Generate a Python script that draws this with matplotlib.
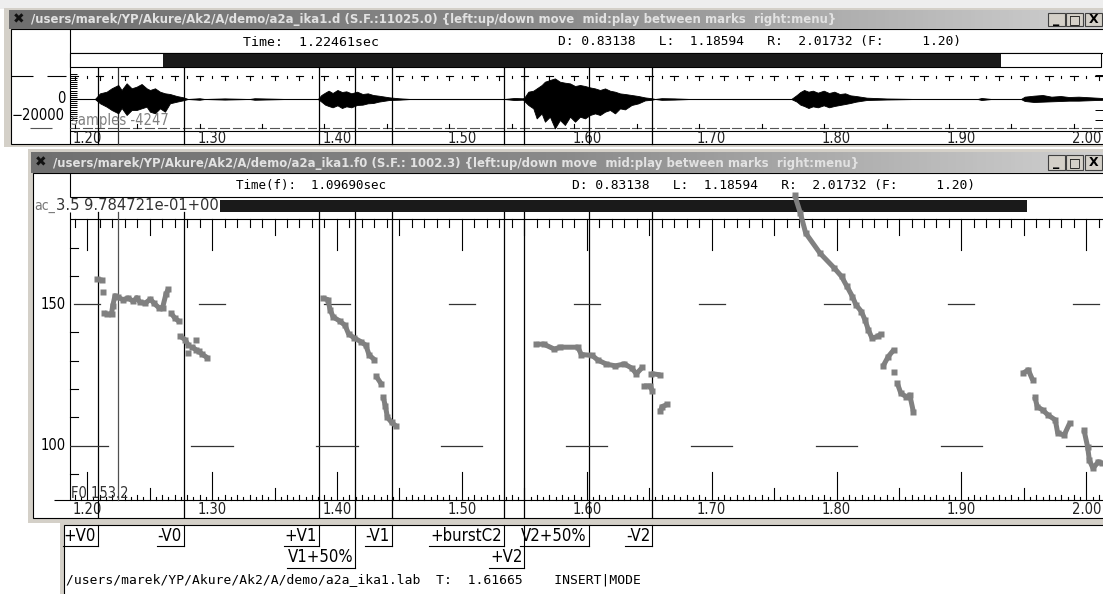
import matplotlib
matplotlib.use('Agg')
import matplotlib.pyplot as plt
import numpy as np
from matplotlib import transforms, font_manager
from matplotlib.patches import Rectangle
from matplotlib.colors import LinearSegmentedColormap

W, H = 1103, 594

# ---- values ----
t_left, t_right = 1.18594, 2.01732
cursor_time = 1.22461
time_ticks = [1.20, 1.30, 1.40, 1.50, 1.60, 1.70, 1.80, 1.90, 2.00]
time_tick_labels = ['1.20', '1.30', '1.40', '1.50', '1.60', '1.70', '1.80', '1.90', '2.00']

mark_times = [1.2088, 1.2774, 1.3856, 1.4147, 1.4439, 1.5334, 1.5500, 1.6014, 1.6525]
mark_labels = ['+V0', '-V0', '+V1', 'V1+50%', '-V1', '+burstC2', '+V2', 'V2+50%', '-V2']
mark_rows = [0, 0, 0, 1, 0, 0, 1, 0, 0]

f0_ticks = [100, 150]
f0_tick_labels = ['100', '150']

# F0 track (Hz), one list per run of points
f0_times = [
    [1.2080, 1.2121],
    [1.2129],
    [1.2135, 1.2160, 1.2195, 1.2205, 1.2223, 1.2245, 1.2286, 1.2328, 1.2369, 1.2397,
     1.2424, 1.2466, 1.2507, 1.2535, 1.2576, 1.2604, 1.2631, 1.2650],
    [1.2672, 1.2700, 1.2733],
    [1.2741, 1.2783, 1.2810],
    [1.2805],
    [1.2874],
    [1.2838, 1.2874, 1.2893, 1.2921, 1.2962],
    [1.3886, 1.3927, 1.3946, 1.3969, 1.4024, 1.4065, 1.4093, 1.4134, 1.4189, 1.4231, 1.4258, 1.4300],
    [1.4313, 1.4355],
    [1.4369, 1.4388, 1.4404, 1.4438, 1.4471],
    [1.5595, 1.5655, 1.5741, 1.5785, 1.5928, 1.5957, 1.6043, 1.6087, 1.6158, 1.6230,
     1.6302, 1.6360, 1.6397, 1.6446],
    [1.6516, 1.6589],
    [1.6459, 1.6510, 1.6524],
    [1.6589, 1.6603, 1.6646],
    [1.7665, 1.7710, 1.7753, 1.7868, 1.7983, 1.8040, 1.8083, 1.8127, 1.8155, 1.8199,
     1.8227, 1.8255, 1.8284, 1.8328, 1.8356],
    [1.8371, 1.8414, 1.8457],
    [1.8457],
    [1.8486, 1.8515, 1.8558, 1.8586, 1.8615],
    [1.9493, 1.9535, 1.9570],
    [1.9587, 1.9607, 1.9650, 1.9694, 1.9751, 1.9771, 1.9823, 1.9866],
    [1.9981, 2.0010, 2.0024, 2.0053, 2.0096, 2.0125],
]
f0_values = [
    [158.8, 158.5],
    [154.2],
    [147.0, 146.4, 146.6, 149.5, 153.0, 152.5, 151.6, 152.2, 151.0, 152.3,
     150.6, 150.4, 151.8, 150.3, 148.7, 148.8, 153.6, 155.4],
    [146.8, 145.2, 144.0],
    [138.8, 137.5, 135.5],
    [132.8],
    [137.3],
    [135.0, 133.8, 133.3, 132.3, 131.1],
    [152.2, 151.6, 148.0, 145.5, 144.0, 142.5, 139.5, 138.2, 136.8, 135.5, 132.0, 130.4],
    [124.6, 121.8],
    [117.3, 114.0, 110.0, 108.2, 107.0],
    [135.8, 135.9, 134.1, 134.8, 134.8, 132.2, 131.9, 130.3, 128.8, 128.2,
     128.9, 127.4, 125.4, 127.7],
    [125.5, 125.0],
    [121.1, 121.1, 119.4],
    [112.2, 113.8, 114.6],
    [188.5, 182.2, 175.1, 168.0, 162.7, 159.8, 156.3, 152.7, 149.8, 147.4,
     144.5, 140.9, 138.0, 138.6, 139.5],
    [128.0, 131.5, 133.8],
    [126.2],
    [122.1, 118.5, 117.3, 117.9, 112.0],
    [125.6, 126.8, 123.2],
    [117.3, 113.8, 112.6, 110.8, 109.1, 104.4, 103.8, 107.9],
    [105.5, 99.6, 94.9, 92.0, 94.3, 93.8],
]

# waveform envelope (sample units)
wave_t = [1.1860, 1.2062,
          1.2103, 1.2156, 1.2196, 1.2249, 1.2276, 1.2316, 1.2356, 1.2396, 1.2436, 1.2476,
          1.2503, 1.2543, 1.2583, 1.2623, 1.2663, 1.2717, 1.2769, 1.2807,
          1.2900, 1.2940, 1.3100, 1.3300, 1.3340, 1.3600,
          1.3847, 1.3875, 1.3905, 1.3933, 1.3965, 1.4004, 1.4040, 1.4075, 1.4115, 1.4161,
          1.4205, 1.4247, 1.4290, 1.4333, 1.4419, 1.4500, 1.4590,
          1.5340, 1.5420, 1.5490,
          1.5505, 1.5532, 1.5572, 1.5599, 1.5639, 1.5665, 1.5705, 1.5745, 1.5785, 1.5825,
          1.5866, 1.5906, 1.5946, 1.5986, 1.6026, 1.6066, 1.6106, 1.6146, 1.6186, 1.6226,
          1.6266, 1.6306, 1.6359, 1.6412, 1.6466, 1.6520, 1.6546,
          1.6600, 1.6700, 1.6833,
          1.7637, 1.7681, 1.7710, 1.7740, 1.7775, 1.7810, 1.7850, 1.7897, 1.7940, 1.7982,
          1.8025, 1.8069, 1.8110, 1.8155, 1.8242, 1.8400, 1.8644,
          1.9129, 1.9160, 1.9241,
          1.9476, 1.9506, 1.9580, 1.9650, 1.9720, 1.9793, 1.9860, 1.9938, 2.0081, 2.0173]
wave_upper = [0, 0,
              6700, 8590, 12590, 16470, 10590, 18470, 12590, 14470, 17650, 12590,
              10590, 12590, 8590, 6700, 5880, 3530, 2000, 0,
              900, 0, 700, 0, 900, 0,
              0, 4710, 7450, 9800, 7060, 10590, 8240, 9020, 6670, 8630,
              5880, 6670, 4710, 3920, 1960, 800, 0,
              0, 1200, 800,
              2700, 8590, 9770, 12470, 16470, 20350, 22350, 24240, 20350, 19180,
              18350, 15290, 16470, 15290, 13650, 12470, 10590, 12470, 9770, 8590,
              6590, 5880, 4710, 3530, 1880, 900, 0,
              1000, 700, 0,
              0, 4710, 8240, 10590, 8630, 9800, 7450, 9800, 7060, 8630,
              5880, 6670, 4310, 3530, 1570, 600, 0,
              0, 1200, 0,
              0, 2750, 3920, 4710, 2750, 3530, 2350, 2750, 1570, 780]
wave_lower = [0, 0,
              -5060, -9060, -12940, -16820, -10590, -18820, -12940, -12940, -10940, -9060,
              -14940, -16820, -10940, -14940, -5060, -3180, -1530, 0,
              -900, 0, -700, 0, -900, 0,
              0, -3140, -6670, -8240, -9800, -7450, -10590, -8630, -9800, -7060,
              -6670, -5100, -4710, -3140, -1180, -800, 0,
              0, -1200, -800,
              -3180, -7060, -11060, -22820, -16940, -26710, -20820, -34590, -24710, -30590,
              -20820, -26710, -20820, -22820, -18820, -16940, -18820, -14940, -12940, -16940,
              -11060, -12240, -7060, -5180, -1650, -900, 0,
              -1000, -700, 0,
              0, -3140, -6670, -8240, -10590, -8630, -9800, -7450, -9800, -8240,
              -7060, -5880, -4710, -3140, -1180, -600, 0,
              0, -1200, 0,
              0, -2350, -3530, -3140, -2750, -2350, -1960, -1960, -1180, -780]

# ---- fonts ----
fl = font_manager.fontManager.ttflist
if any(f.name == 'Liberation Sans Narrow' for f in fl):
    NARROW = dict(family='Liberation Sans Narrow')
elif any(f.name == 'DejaVu Sans' and 'Condensed' in f.fname for f in fl):
    NARROW = dict(family='DejaVu Sans', fontstretch='condensed')
else:
    NARROW = dict(family='DejaVu Sans')
MONO = dict(family='DejaVu Sans Mono')

fig = plt.figure(figsize=(W / 100, H / 100), dpi=100)
fig.patch.set_facecolor('white')
canvas = fig.add_axes([0, 0, 1, 1])
canvas.axis('off')
canvas.set_xlim(0, W)
canvas.set_ylim(H, 0)
renderer = fig.canvas.get_renderer()


def px_axes(x0, y0, x1, y1):
    a = fig.add_axes([x0 / W, 1 - y1 / H, (x1 - x0) / W, (y1 - y0) / H])
    a.axis('off')
    return a


def box(x0, y0, x1, y1, fc='none', ec='none', lw=0.8, z=1):
    canvas.add_patch(Rectangle((x0, y0), x1 - x0, y1 - y0, fc=fc, ec=ec, lw=lw, zorder=z))


def seg(x, y, **kw):
    kw.setdefault('color', 'black')
    kw.setdefault('lw', 0.8)
    canvas.plot(x, y, solid_capstyle='butt', **kw)


def fit(t, width):
    bb = t.get_window_extent(renderer)
    t.set_fontsize(t.get_fontsize() * width / bb.width)


grad = LinearSegmentedColormap.from_list('title', ['#6f6f6f', '#8a8a8a', '#d0d0d0'])


def title_bar(x0, y0, x1, y1, text, tx1):
    canvas.imshow(np.linspace(0, 1, 256)[None, :], extent=(x0, x1, y1, y0),
                  cmap=grad, aspect='auto', zorder=2)
    canvas.text(x0 + 4, (y0 + y1) / 2, '\u2716', fontsize=10, color='#111111',
                ha='left', va='center', zorder=3)
    t = canvas.text(x0 + 22, (y0 + y1) / 2 + 0.5, text, fontsize=9, fontweight='bold',
                    color='#e2e2e2', ha='left', va='center', zorder=3)
    fit(t, tx1 - (x0 + 22))
    for bx, glyph in zip([1048, 1066, 1085], ['_', '\u25a1', 'X']):
        box(bx, y0 + 3, bx + 17, y1 - 3, fc='#d4d0c8', ec='#404040', lw=0.8, z=3)
        canvas.text(bx + 8.5, (y0 + y1) / 2, glyph, fontsize=9, fontweight='bold',
                    ha='center', va='center', color='black', zorder=4)


# window frames
box(0, 0, W, 9, fc='#eeeeee', z=0)
box(4, 8, W, 147, fc='#d4d0c8', z=0)
box(28, 149, W, 523, fc='#d4d0c8', z=0)
box(60, 521, W, H, fc='#d4d0c8', z=0)
box(11, 29, W + 2, 144, fc='white', ec='black', z=1)
box(33, 173, W + 2, 518, fc='white', ec='black', z=1)
box(64, 525, W + 2, H + 2, fc='white', ec='black', z=1)

title_bar(9, 10, W, 29,
          '/users/marek/YP/Akure/Ak2/A/demo/a2a_ika1.d (S.F.:11025.0) '
          '{left:up/down move  mid:play between marks  right:menu}', 832)
title_bar(31, 152, W, 173,
          '/users/marek/YP/Akure/Ak2/A/demo/a2a_ika1.f0 (S.F.: 1002.3) '
          '{left:up/down move  mid:play between marks  right:menu}', 856)
canvas.set_xlim(0, W)
canvas.set_ylim(H, 0)

# data axes placed in pixels
X0, X1 = 69.6, 69.6 + (t_right - t_left) * 1249
ax_wave = px_axes(X0, 68, X1, 131)
ax_wave.set_xlim(t_left, t_right)
ax_wave.set_ylim(-37650, 36470)
ax_f0 = px_axes(X0, 219.3, X1, 500)
ax_f0.set_xlim(t_left, t_right)
ax_f0.set_ylim(80.8, 180.0)

tr_t = transforms.blended_transform_factory(ax_f0.transData, canvas.transData)

# ---------- top window (waveform) ----------
seg([70, 70], [29, 144])
seg([70, W], [53, 53])
box(70, 53, W - 2, 67, fc='white', ec='black', z=2)
box(162.5, 53.5, 1001, 66.5, fc='#1a1a1a', z=3)
t = canvas.text(243, 42, 'Time:  1.22461sec', **MONO, fontsize=9, va='center', zorder=3)
fit(t, 135)
t = canvas.text(558, 42, 'D: 0.83138   L:  1.18594   R:  2.01732 (F:     1.20)',
                **MONO, fontsize=9, va='center', zorder=3)
fit(t, 404)

ticks01 = np.round(np.arange(1.19, 2.02, 0.01), 2)
seg([11, 33], [75.5, 75.5])
seg([47, 66], [75.5, 75.5])
for i, tt in enumerate(ticks01):
    if i % 2 == 0:
        canvas.plot([tt - 0.003, tt + 0.003], [76, 76], transform=tr_t, color='k', lw=0.8)
        canvas.plot([tt, tt], [76, 80], transform=tr_t, color='k', lw=0.8)
    else:
        canvas.plot([tt, tt], [76, 77.5], transform=tr_t, color='k', lw=0.8)
seg([30, 52], [128, 128], color='#555555')
for i, tt in enumerate(ticks01):
    canvas.plot([tt - 0.0035, tt + 0.0035], [128, 128], transform=tr_t, color='#555555', lw=0.8)
    if i % 5 == 0:
        canvas.plot([tt, tt], [124, 128], transform=tr_t, color='k', lw=0.8)
seg([70, W], [131, 131])
seg([70, W], [99, 99])
for v in range(-25000, 30001, 2500):
    yy = 99 - v / 1176.5
    seg([70, 77], [yy, yy], lw=0.7)
for yy in (75, 110, 120):
    seg([1095, W], [yy, yy], lw=0.7)
canvas.text(65, 98.5, '0', **NARROW, fontsize=10.5, ha='right', va='center', zorder=3)
canvas.text(65, 115, '\u221220000', **NARROW, fontsize=10.5, ha='right', va='center', zorder=3)
canvas.text(71, 121, 'samples -4247', **NARROW, fontsize=10.5, ha='left', va='center',
            color='#808080', zorder=3)

ax_wave.fill_between(wave_t, wave_lower, wave_upper, color='black', lw=0.6)

for tt, lab in zip(time_ticks, time_tick_labels):
    canvas.text(tt, 138.5, lab, transform=tr_t, **NARROW, fontsize=10.5, ha='center',
                va='center', color='#222222', zorder=3)

# ---------- bottom window (F0) ----------
seg([X0, X0], [173, 197])
seg([X0, W], [197, 197])
t = canvas.text(236, 185, 'Time(f):  1.09690sec', **MONO, fontsize=9, va='center', zorder=3)
fit(t, 150)
t = canvas.text(572, 185, 'D: 0.83138   L:  1.18594   R:  2.01732 (F:     1.20)',
                **MONO, fontsize=9, va='center', zorder=3)
fit(t, 404)
box(220, 200, 1027, 212, fc='#1a1a1a', z=3)
canvas.text(34, 206, 'ac_', **NARROW, fontsize=10, va='center', color='#777777', zorder=3)
t = canvas.text(56, 206, '3.5 9.784721e-01+00', **NARROW, fontsize=10, va='center',
                color='#333333', zorder=3)
fit(t, 163)

# top ruler (ticks hang down)
seg([X0, W], [219.3, 219.3])
for tt in ticks01:
    k = int(round(tt * 100))
    ln = 31 if k % 10 == 0 else (16 if k % 5 == 0 else 8)
    canvas.plot([tt, tt], [219.3, 219.3 + ln], transform=tr_t, color='k', lw=0.8)
# bottom ruler (ticks point up)
seg([54, W], [500, 500])
for tt in np.round(np.arange(1.19, 2.02, 0.005), 3):
    k = int(round(tt * 1000))
    ln = 28 if k % 100 == 0 else (12 if k % 50 == 0 else (5 if k % 10 == 0 else 3))
    canvas.plot([tt, tt], [500 - ln, 500], transform=tr_t, color='k', lw=0.8)
# F0 axis
seg([X0, X0], [212, 500])
tr_f = transforms.blended_transform_factory(canvas.transData, ax_f0.transData)
for hz in range(90, 180, 10):
    if hz not in f0_ticks:
        canvas.plot([X0, X0 + 8], [hz, hz], transform=tr_f, color='k', lw=0.8)
for hz, lab in zip(f0_ticks, f0_tick_labels):
    canvas.text(66, hz, lab, transform=tr_f, **NARROW, fontsize=10.5, ha='right',
                va='center', zorder=3)
for tt in time_ticks:
    ax_f0.plot([tt - 0.0104, tt + 0.0104], [150, 150], color='#333333', lw=0.9)
    ax_f0.plot([tt - 0.0165, tt + 0.0165], [100, 100], color='#333333', lw=0.9)
canvas.text(71, 494, 'F0 153.2', **NARROW, fontsize=10.5, va='center', color='#333333', zorder=3)
for tt, lab in zip(time_ticks, time_tick_labels):
    canvas.text(tt, 509.5, lab, transform=tr_t, **NARROW, fontsize=10.5, ha='center',
                va='center', color='#222222', zorder=3)

for run_t, run_v in zip(f0_times, f0_values):
    ax_f0.plot(run_t, run_v, color='#808080', lw=3.6, marker='s', ms=3.8, mec='none',
               solid_capstyle='butt', clip_on=False)

# ---------- segment marks ----------
for tt in mark_times:
    canvas.plot([tt, tt], [68, 144], transform=tr_t, color='black', lw=0.9, zorder=4)
    canvas.plot([tt, tt], [212, 517], transform=tr_t, color='black', lw=0.9, zorder=4)
canvas.plot([cursor_time, cursor_time], [68, 144], transform=tr_t, color='#303030', lw=0.9)
canvas.plot([cursor_time, cursor_time], [212, 500], transform=tr_t, color='#505050', lw=0.9)

# ---------- label window ----------
for tt, lab, row in zip(mark_times, mark_labels, mark_rows):
    y_text, y_ul = (536, 546) if row == 0 else (557, 568)
    xm = tr_t.transform((tt, 0))[0]
    canvas.plot([xm, xm], [525, y_ul], color='black', lw=0.8)
    txt = canvas.text(xm - 2, y_text, lab, **NARROW, fontsize=12, ha='right',
                      va='center', zorder=3)
    bb = txt.get_window_extent(renderer)
    canvas.plot([bb.x0 - 1, xm], [y_ul, y_ul], color='black', lw=0.8)

t = canvas.text(66, 580, '/users/marek/YP/Akure/Ak2/A/demo/a2a_ika1.lab  T:  1.61665    INSERT|MODE',
                **MONO, fontsize=8.5, va='center', zorder=3)
fit(t, 572)

canvas.set_xlim(0, W)
canvas.set_ylim(H, 0)
fig.savefig('out.png', dpi=100, facecolor='white')
